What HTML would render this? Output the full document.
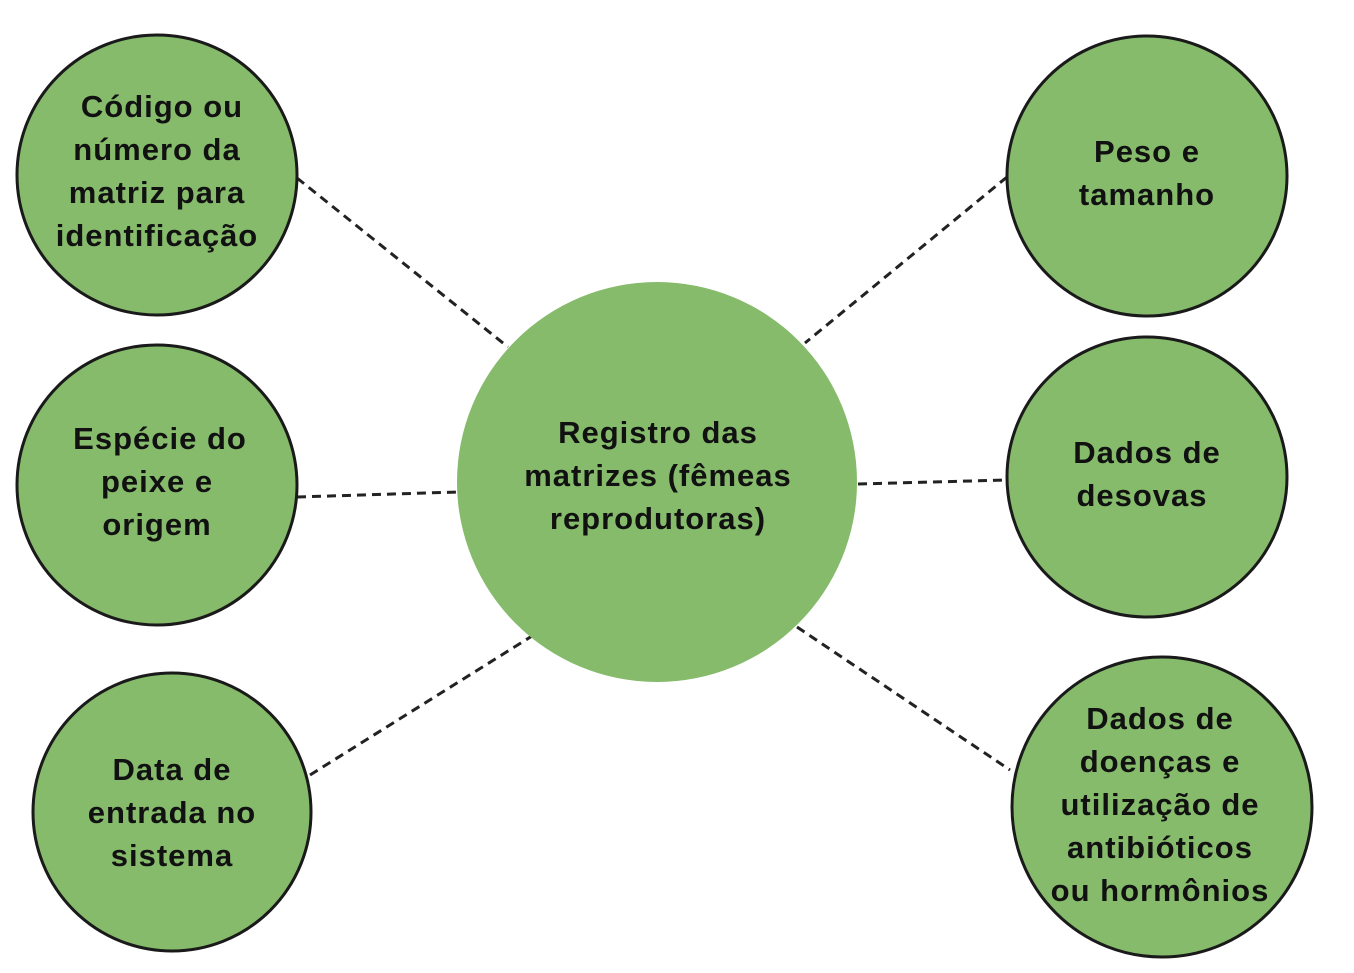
<!DOCTYPE html>
<html><head><meta charset="utf-8"><style>
html,body{margin:0;padding:0;background:#fff;width:1354px;height:973px;overflow:hidden}
text{font-family:"Liberation Sans",sans-serif;font-weight:bold;font-size:31px;letter-spacing:1px;fill:#111;text-anchor:middle}
</style></head><body>
<svg width="1354" height="973" viewBox="0 0 1354 973" xmlns="http://www.w3.org/2000/svg">
<g stroke="#222" stroke-width="3" stroke-dasharray="9,6" fill="none">
<line x1="297" y1="178" x2="508" y2="347"/>
<line x1="297" y1="497" x2="458" y2="492"/>
<line x1="310" y1="775" x2="532" y2="636"/>
<line x1="1007" y1="177" x2="805" y2="343"/>
<line x1="858" y1="484" x2="1007" y2="480"/>
<line x1="797" y1="627" x2="1010" y2="770"/>
</g>
<g fill="#85bb6b" stroke="#1a1a1a" stroke-width="3">
<circle cx="157" cy="175" r="140"/>
<circle cx="157" cy="485" r="140"/>
<circle cx="172" cy="812" r="139"/>
<circle cx="1147" cy="176" r="140"/>
<circle cx="1147" cy="477" r="140"/>
<circle cx="1162" cy="807" r="150"/>
</g>
<circle cx="657" cy="482" r="200" fill="#85bb6b"/>
<text x="162" y="117">Código ou</text>
<text x="157" y="160">número da</text>
<text x="157" y="203">matriz para</text>
<text x="157" y="246">identificação</text>
<text x="160" y="449">Espécie do</text>
<text x="157" y="492">peixe e</text>
<text x="157" y="535">origem</text>
<text x="172" y="780">Data de</text>
<text x="172" y="823">entrada no</text>
<text x="172" y="866">sistema</text>
<text x="658" y="443">Registro das</text>
<text x="658" y="486">matrizes (fêmeas</text>
<text x="658" y="529">reprodutoras)</text>
<text x="1147" y="162">Peso e</text>
<text x="1147" y="205">tamanho</text>
<text x="1147" y="463">Dados de</text>
<text x="1142" y="506">desovas</text>
<text x="1160" y="729">Dados de</text>
<text x="1160" y="772">doenças e</text>
<text x="1160" y="815">utilização de</text>
<text x="1160" y="858">antibióticos</text>
<text x="1160" y="901">ou hormônios</text>
</svg>
</body></html>
